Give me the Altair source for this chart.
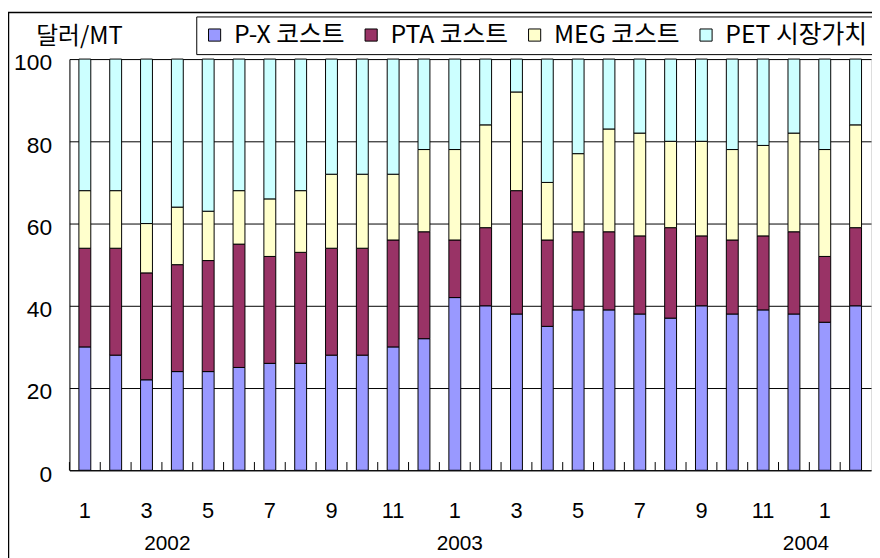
import altair as alt
import pandas as pd

months = ["2002-01", "2002-02", "2002-03", "2002-04", "2002-05", "2002-06",
          "2002-07", "2002-08", "2002-09", "2002-10", "2002-11", "2002-12",
          "2003-01", "2003-02", "2003-03", "2003-04", "2003-05", "2003-06",
          "2003-07", "2003-08", "2003-09", "2003-10", "2003-11", "2003-12",
          "2004-01", "2004-02"]

series_names = ["P-X 코스트", "PTA 코스트", "MEG 코스트", "PET 시장가치"]
series_colors = ["#9999FF", "#993366", "#FFFFCC", "#CCFFFF"]

px_cost = [30, 28, 22, 24, 24, 25, 26, 26, 28, 28, 30, 32, 42, 40, 38, 35, 39, 39, 38, 37, 40, 38, 39, 38, 36, 40]
pta_cost = [24, 26, 26, 26, 27, 30, 26, 27, 26, 26, 26, 26, 14, 19, 30, 21, 19, 19, 19, 22, 17, 18, 18, 20, 16, 19]
meg_cost = [14, 14, 12, 14, 12, 13, 14, 15, 18, 18, 16, 20, 22, 25, 24, 14, 19, 25, 25, 21, 23, 22, 22, 24, 26, 25]
pet_value = [32, 32, 40, 36, 37, 32, 34, 32, 28, 28, 28, 22, 22, 16, 8, 30, 23, 17, 18, 20, 20, 22, 21, 18, 22, 16]

year_labels = ["2002", "2003", "2004"]
year_anchor = ["2002-03", "2003-01", "2004-01"]
year_dx = [21, 5, -19]  # style offsets

rows = []
for si, (name, vals) in enumerate(zip(series_names, [px_cost, pta_cost, meg_cost, pet_value])):
    for m, v in zip(months, vals):
        rows.append({"cat": m, "series": name, "value": v, "order": si})
df = pd.DataFrame(rows)

NUM_FONT = "Liberation Sans"
KR_FONT = "Noto Sans CJK KR"
W, H = 809, 415

x_scale = alt.Scale(domain=months, paddingInner=0, paddingOuter=0)

bars = alt.Chart(df).mark_bar(size=12, stroke="black", strokeWidth=1).encode(
    x=alt.X("cat:N", scale=x_scale,
            axis=alt.Axis(title=None, labelAngle=0, ticks=False, grid=False,
                          domainColor="black", labelPadding=31,
                          labelFont=NUM_FONT, labelFontSize=22, labelColor="black",
                          labelExpr="toNumber(substring(datum.value,5,7)) % 2 == 1 ? '' + toNumber(substring(datum.value,5,7)) : ''")),
    y=alt.Y("value:Q", stack="zero", scale=alt.Scale(domain=[0, 100], nice=False),
            axis=alt.Axis(values=[0, 20, 40, 60, 80, 100], ticks=False, grid=True,
                          gridColor="black", gridOpacity=1, gridWidth=1,
                          domainColor="black", labelPadding=18, labelOffset=4,
                          labelFont=NUM_FONT, labelFontSize=23, labelColor="black",
                          title="달러/MT", titleAngle=0, titleAlign="left",
                          titleBaseline="middle", titleX=-34, titleY=-23,
                          titleFont=KR_FONT, titleFontSize=24, titleFontWeight="normal",
                          titleColor="black")),
    color=alt.Color("series:N", scale=alt.Scale(domain=series_names, range=series_colors),
                    legend=alt.Legend(title=None, orient="none", legendX=128, legendY=-43,
                                      direction="horizontal", columns=4,
                                      symbolType="square", symbolSize=150,
                                      symbolStrokeColor="black", symbolStrokeWidth=1,
                                      labelFont=KR_FONT, labelFontSize=25, labelColor="black",
                                      strokeColor="black", fillColor="white",
                                      padding=6, columnPadding=14, labelOffset=7)),
    order=alt.Order("order:Q"),
)

ticks = alt.Chart(pd.DataFrame({"cat": months})).mark_rule(color="black", strokeWidth=1).encode(
    x=alt.X("cat:N", scale=x_scale, bandPosition=0),
    y=alt.datum(0),
    y2=alt.datum(2),
)

year_layers = []
for lab, anc, dx in zip(year_labels, year_anchor, year_dx):
    year_layers.append(
        alt.Chart(pd.DataFrame({"cat": [anc], "year": [lab]})).mark_text(
            font=NUM_FONT, fontSize=21, color="black", baseline="middle", dx=dx
        ).encode(
            x=alt.X("cat:N", scale=x_scale),
            y=alt.value(H + 74),
            text="year:N",
        )
    )

# outer chart-area frame (decorative lines)
frame_src = pd.DataFrame({"f": [0]})
frame_left = alt.Chart(frame_src).mark_rule(color="black", strokeWidth=1.5).encode(
    x=alt.value(-61.5), y=alt.value(-47), y2=alt.value(H + 90),
)
frame_top = alt.Chart(frame_src).mark_rule(color="black", strokeWidth=1.5).encode(
    x=alt.value(-62), x2=alt.value(W + 1), y=alt.value(-47),
)

chart = alt.layer(bars, ticks, *year_layers, frame_left, frame_top).properties(
    width=W, height=H,
    autosize=alt.AutoSizeParams(type="none"),
    padding={"left": 62, "top": 49, "right": 1, "bottom": 86},
).configure_view(fill="#C0C0C0", stroke="black", strokeWidth=1).configure(background="white")

chart.save("out.html", embed_options={"renderer": "svg", "actions": False})
